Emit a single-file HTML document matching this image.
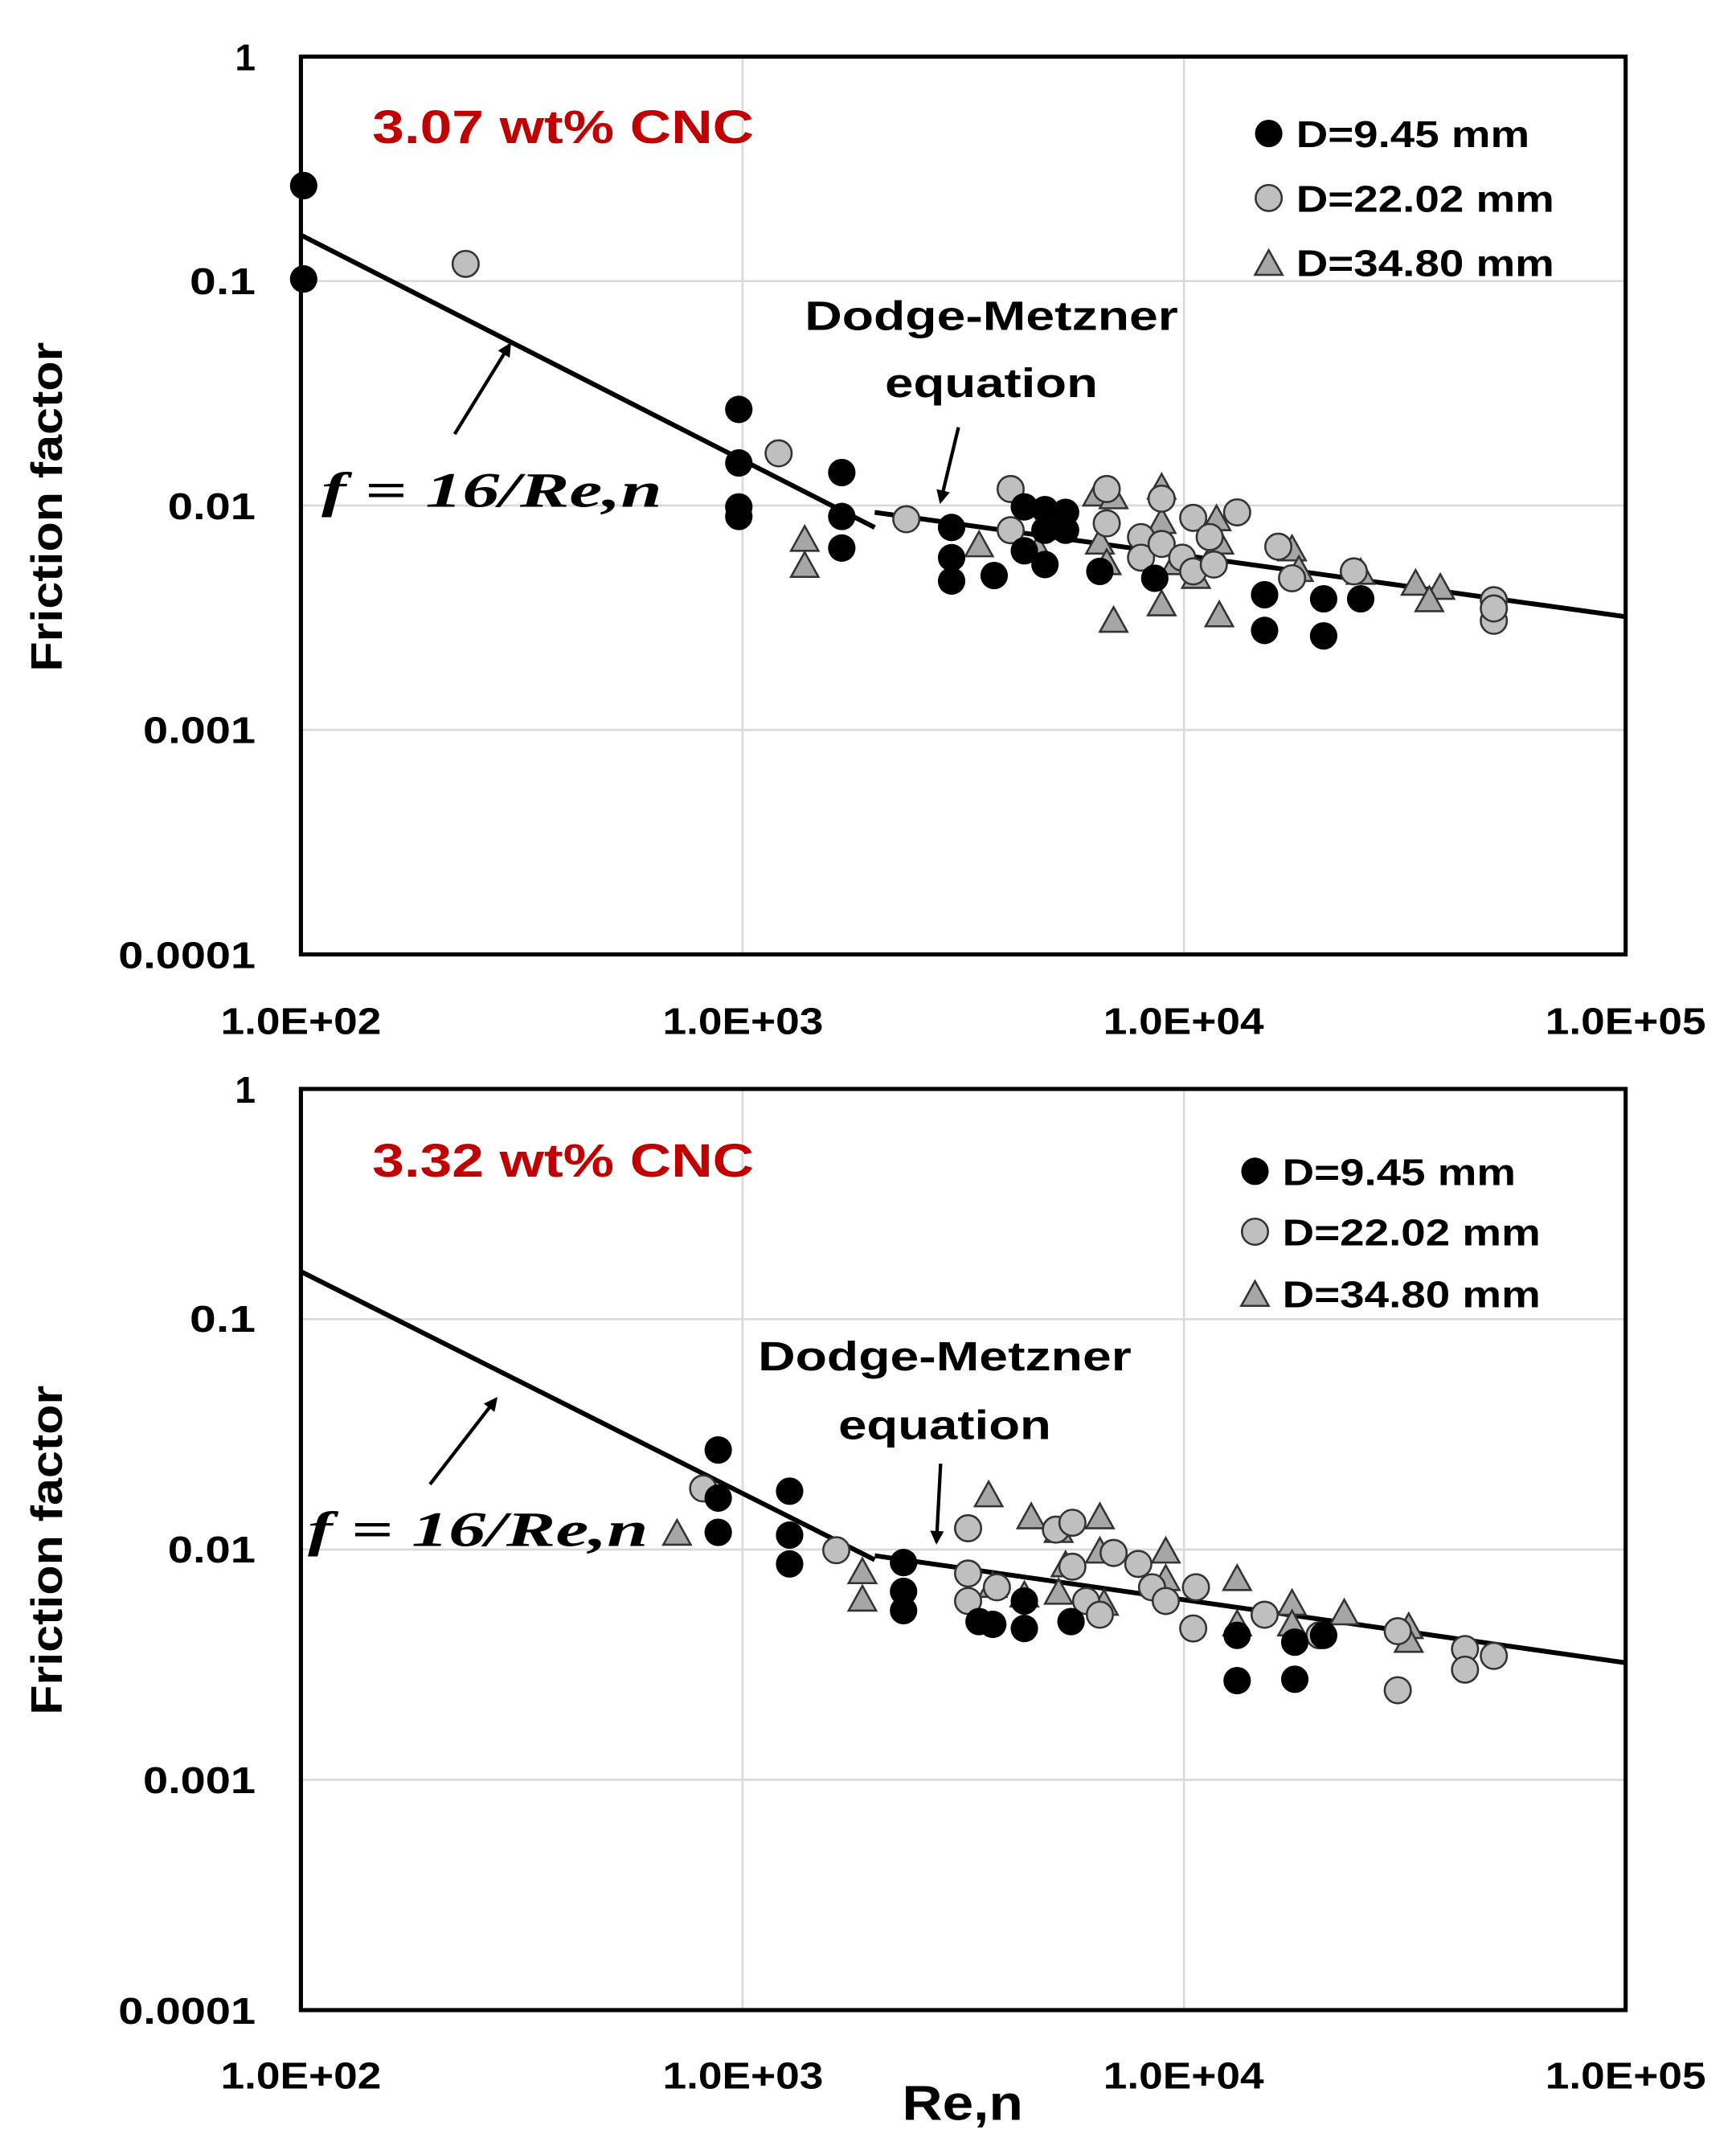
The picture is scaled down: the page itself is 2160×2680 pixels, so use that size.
<!DOCTYPE html>
<html><head><meta charset="utf-8"><style>html,body{margin:0;padding:0;background:#fff}svg{display:block}</style></head><body>
<svg width="2160" height="2680" viewBox="-1.2 -1.2 1264.6 1569" xmlns="http://www.w3.org/2000/svg" font-family="Liberation Sans, sans-serif" font-weight="bold">
<defs>
<g id="b"><circle r="10" fill="#000"/></g>
<g id="g"><circle r="9.5" fill="#bfbfbf" stroke="#333" stroke-width="1.5"/></g>
<g id="t"><polygon points="0,-11 10,7 -10,7" fill="#a6a6a6" stroke="#333" stroke-width="1.5"/></g>
<marker id="ah" markerWidth="10" markerHeight="10" refX="8" refY="5" orient="auto" markerUnits="userSpaceOnUse"><path d="M0,0 L10,5 L0,10 z" fill="#000"/></marker>
</defs>
<!-- TOP PLOT -->
<g stroke="#d9d9d9" stroke-width="1.5">
<line x1="218" y1="203.5" x2="1183" y2="203.5"/><line x1="218" y1="367" x2="1183" y2="367"/><line x1="218" y1="530.5" x2="1183" y2="530.5"/>
<line x1="539.7" y1="40" x2="539.7" y2="694"/><line x1="861.3" y1="40" x2="861.3" y2="694"/>
</g>
<rect x="218" y="40" width="965" height="654" fill="none" stroke="#000" stroke-width="3"/>
<g font-size="27" text-anchor="end" lengthAdjust="spacingAndGlyphs">
<text x="185" y="50">1</text><text x="185" y="213" textLength="48" lengthAdjust="spacingAndGlyphs">0.1</text><text x="185" y="377" textLength="64" lengthAdjust="spacingAndGlyphs">0.01</text><text x="185" y="540" textLength="82" lengthAdjust="spacingAndGlyphs">0.001</text><text x="185" y="704" textLength="100" lengthAdjust="spacingAndGlyphs">0.0001</text>
</g>
<g font-size="27" text-anchor="middle">
<text x="218" y="752" textLength="117" lengthAdjust="spacingAndGlyphs">1.0E+02</text><text x="540" y="752" textLength="117" lengthAdjust="spacingAndGlyphs">1.0E+03</text><text x="861" y="752" textLength="117" lengthAdjust="spacingAndGlyphs">1.0E+04</text><text x="1183" y="752" textLength="117" lengthAdjust="spacingAndGlyphs">1.0E+05</text>
</g>
<text transform="translate(44,368) rotate(-90)" font-size="32" text-anchor="middle" textLength="240" lengthAdjust="spacingAndGlyphs">Friction factor</text>
<text x="270" y="103" font-size="34" fill="#c00000" textLength="278" lengthAdjust="spacingAndGlyphs">3.07 wt% CNC</text>
<line x1="218" y1="170" x2="636" y2="383" stroke="#000" stroke-width="3.5"/>
<line x1="636" y1="372" x2="1183" y2="448" stroke="#000" stroke-width="3.5"/>
<line x1="330" y1="315" x2="370" y2="250" stroke="#000" stroke-width="2.5" marker-end="url(#ah)"/>
<line x1="697" y1="310" x2="684" y2="364" stroke="#000" stroke-width="2.5" marker-end="url(#ah)"/>
<text x="721" y="239" font-size="30" text-anchor="middle" textLength="272" lengthAdjust="spacingAndGlyphs">Dodge-Metzner</text>
<text x="721" y="288" font-size="30" text-anchor="middle" textLength="155" lengthAdjust="spacingAndGlyphs">equation</text>
<text x="233" y="368" font-family="Liberation Serif, serif" font-size="36" font-style="italic" textLength="248" lengthAdjust="spacingAndGlyphs">f = 16/Re,n</text>
<use href="#b" x="923" y="96"/><use href="#g" x="923" y="143"/><use href="#t" x="923" y="192"/>
<g font-size="27"><text x="943" y="106" textLength="170" lengthAdjust="spacingAndGlyphs">D=9.45 mm</text><text x="943" y="153" textLength="188" lengthAdjust="spacingAndGlyphs">D=22.02 mm</text><text x="943" y="200" textLength="188" lengthAdjust="spacingAndGlyphs">D=34.80 mm</text></g>
<g>
<use href="#t" x="585" y="393"/><use href="#t" x="585" y="412"/><use href="#t" x="712" y="397"/><use href="#t" x="755" y="400"/><use href="#t" x="800" y="395"/><use href="#t" x="798" y="360"/><use href="#t" x="810" y="362"/><use href="#t" x="845" y="355"/><use href="#t" x="845" y="380"/><use href="#t" x="810" y="452"/><use href="#t" x="845" y="440"/><use href="#t" x="885" y="378"/><use href="#t" x="887" y="395"/><use href="#t" x="887" y="448"/><use href="#t" x="940" y="400"/><use href="#t" x="945" y="415"/><use href="#t" x="990" y="417"/><use href="#t" x="1030" y="425"/><use href="#t" x="1048" y="428"/><use href="#t" x="1040" y="437"/><use href="#t" x="805" y="410"/><use href="#t" x="855" y="410"/><use href="#t" x="870" y="420"/>
</g>
<g>
<use href="#g" x="338" y="191"/><use href="#g" x="566" y="329"/><use href="#g" x="659" y="377"/><use href="#g" x="735" y="355"/><use href="#g" x="735" y="385"/><use href="#g" x="805" y="380"/><use href="#g" x="830" y="390"/><use href="#g" x="830" y="405"/><use href="#g" x="845" y="362"/><use href="#g" x="845" y="395"/><use href="#g" x="860" y="405"/><use href="#g" x="868" y="376"/><use href="#g" x="880" y="390"/><use href="#g" x="868" y="415"/><use href="#g" x="900" y="372"/><use href="#g" x="883" y="410"/><use href="#g" x="930" y="397"/><use href="#g" x="940" y="420"/><use href="#g" x="985" y="415"/><use href="#g" x="1087" y="436"/><use href="#g" x="1087" y="451"/><use href="#g" x="1087" y="442"/><use href="#g" x="805" y="355"/>
</g>
<g>
<use href="#b" x="220" y="134"/><use href="#b" x="220" y="202"/><use href="#b" x="537" y="297"/><use href="#b" x="537" y="336"/><use href="#b" x="537" y="368"/><use href="#b" x="537" y="375"/><use href="#b" x="612" y="343"/><use href="#b" x="612" y="375"/><use href="#b" x="612" y="398"/><use href="#b" x="692" y="383"/><use href="#b" x="692" y="405"/><use href="#b" x="692" y="422"/><use href="#b" x="723" y="418"/><use href="#b" x="745" y="368"/><use href="#b" x="760" y="370"/><use href="#b" x="775" y="372"/><use href="#b" x="760" y="385"/><use href="#b" x="775" y="385"/><use href="#b" x="745" y="400"/><use href="#b" x="760" y="410"/><use href="#b" x="800" y="415"/><use href="#b" x="840" y="420"/><use href="#b" x="920" y="432"/><use href="#b" x="920" y="458"/><use href="#b" x="963" y="435"/><use href="#b" x="963" y="462"/><use href="#b" x="990" y="435"/>
</g>

<!-- BOTTOM PLOT -->
<g stroke="#d9d9d9" stroke-width="1.5">
<line x1="218" y1="959.75" x2="1183" y2="959.75"/><line x1="218" y1="1127.5" x2="1183" y2="1127.5"/><line x1="218" y1="1295.25" x2="1183" y2="1295.25"/>
<line x1="539.7" y1="792" x2="539.7" y2="1463"/><line x1="861.3" y1="792" x2="861.3" y2="1463"/>
</g>
<rect x="218" y="792" width="965" height="671" fill="none" stroke="#000" stroke-width="3"/>
<g font-size="27" text-anchor="end">
<text x="185" y="802">1</text><text x="185" y="969" textLength="48" lengthAdjust="spacingAndGlyphs">0.1</text><text x="185" y="1137" textLength="64" lengthAdjust="spacingAndGlyphs">0.01</text><text x="185" y="1305" textLength="82" lengthAdjust="spacingAndGlyphs">0.001</text><text x="185" y="1473" textLength="100" lengthAdjust="spacingAndGlyphs">0.0001</text>
</g>
<g font-size="27" text-anchor="middle">
<text x="218" y="1520" textLength="117" lengthAdjust="spacingAndGlyphs">1.0E+02</text><text x="540" y="1520" textLength="117" lengthAdjust="spacingAndGlyphs">1.0E+03</text><text x="861" y="1520" textLength="117" lengthAdjust="spacingAndGlyphs">1.0E+04</text><text x="1183" y="1520" textLength="117" lengthAdjust="spacingAndGlyphs">1.0E+05</text>
</g>
<text x="700" y="1543" font-size="36" text-anchor="middle" textLength="88" lengthAdjust="spacingAndGlyphs">Re,n</text>
<text transform="translate(44,1128) rotate(-90)" font-size="32" text-anchor="middle" textLength="240" lengthAdjust="spacingAndGlyphs">Friction factor</text>
<text x="270" y="856" font-size="34" fill="#c00000" textLength="278" lengthAdjust="spacingAndGlyphs">3.32 wt% CNC</text>
<line x1="218" y1="925" x2="636" y2="1135" stroke="#000" stroke-width="3.5"/>
<line x1="636" y1="1132" x2="1183" y2="1210" stroke="#000" stroke-width="3.5"/>
<line x1="312" y1="1080" x2="360" y2="1018" stroke="#000" stroke-width="2.5" marker-end="url(#ah)"/>
<line x1="684" y1="1065" x2="681" y2="1122" stroke="#000" stroke-width="2.5" marker-end="url(#ah)"/>
<text x="687" y="997" font-size="30" text-anchor="middle" textLength="272" lengthAdjust="spacingAndGlyphs">Dodge-Metzner</text>
<text x="687" y="1047" font-size="30" text-anchor="middle" textLength="155" lengthAdjust="spacingAndGlyphs">equation</text>
<text x="223" y="1125" font-family="Liberation Serif, serif" font-size="36" font-style="italic" textLength="248" lengthAdjust="spacingAndGlyphs">f = 16/Re,n</text>
<use href="#b" x="913" y="852"/><use href="#g" x="913" y="896"/><use href="#t" x="913" y="943"/>
<g font-size="27"><text x="933" y="862" textLength="170" lengthAdjust="spacingAndGlyphs">D=9.45 mm</text><text x="933" y="906" textLength="188" lengthAdjust="spacingAndGlyphs">D=22.02 mm</text><text x="933" y="951" textLength="188" lengthAdjust="spacingAndGlyphs">D=34.80 mm</text></g>
<g>
<use href="#t" x="492" y="1117"/><use href="#t" x="627" y="1145"/><use href="#t" x="627" y="1165"/><use href="#t" x="719" y="1089"/><use href="#t" x="722" y="1155"/><use href="#t" x="750" y="1105"/><use href="#t" x="770" y="1115"/><use href="#t" x="775" y="1140"/><use href="#t" x="745" y="1162"/><use href="#t" x="800" y="1105"/><use href="#t" x="800" y="1130"/><use href="#t" x="803" y="1168"/><use href="#t" x="848" y="1130"/><use href="#t" x="848" y="1150"/><use href="#t" x="900" y="1150"/><use href="#t" x="900" y="1183"/><use href="#t" x="940" y="1168"/><use href="#t" x="940" y="1183"/><use href="#t" x="978" y="1175"/><use href="#t" x="1025" y="1185"/><use href="#t" x="1025" y="1195"/><use href="#t" x="770" y="1160"/>
</g>
<g>
<use href="#g" x="511" y="1083"/><use href="#g" x="608" y="1128"/><use href="#g" x="704" y="1112"/><use href="#g" x="704" y="1145"/><use href="#g" x="704" y="1165"/><use href="#g" x="725" y="1155"/><use href="#g" x="768" y="1113"/><use href="#g" x="780" y="1108"/><use href="#g" x="780" y="1140"/><use href="#g" x="790" y="1165"/><use href="#g" x="810" y="1130"/><use href="#g" x="828" y="1138"/><use href="#g" x="838" y="1155"/><use href="#g" x="848" y="1165"/><use href="#g" x="870" y="1155"/><use href="#g" x="868" y="1185"/><use href="#g" x="920" y="1175"/><use href="#g" x="960" y="1190"/><use href="#g" x="1017" y="1187"/><use href="#g" x="1017" y="1230"/><use href="#g" x="1066" y="1200"/><use href="#g" x="1066" y="1215"/><use href="#g" x="1087" y="1205"/><use href="#g" x="800" y="1175"/>
</g>
<g>
<use href="#b" x="522" y="1055"/><use href="#b" x="522" y="1090"/><use href="#b" x="522" y="1115"/><use href="#b" x="574" y="1085"/><use href="#b" x="574" y="1117"/><use href="#b" x="574" y="1138"/><use href="#b" x="657" y="1137"/><use href="#b" x="657" y="1158"/><use href="#b" x="657" y="1172"/><use href="#b" x="712" y="1180"/><use href="#b" x="722" y="1182"/><use href="#b" x="745" y="1165"/><use href="#b" x="745" y="1185"/><use href="#b" x="779" y="1180"/><use href="#b" x="900" y="1190"/><use href="#b" x="900" y="1223"/><use href="#b" x="942" y="1222"/><use href="#b" x="963" y="1190"/><use href="#b" x="942" y="1195"/>
</g>
</svg>
</body></html>
